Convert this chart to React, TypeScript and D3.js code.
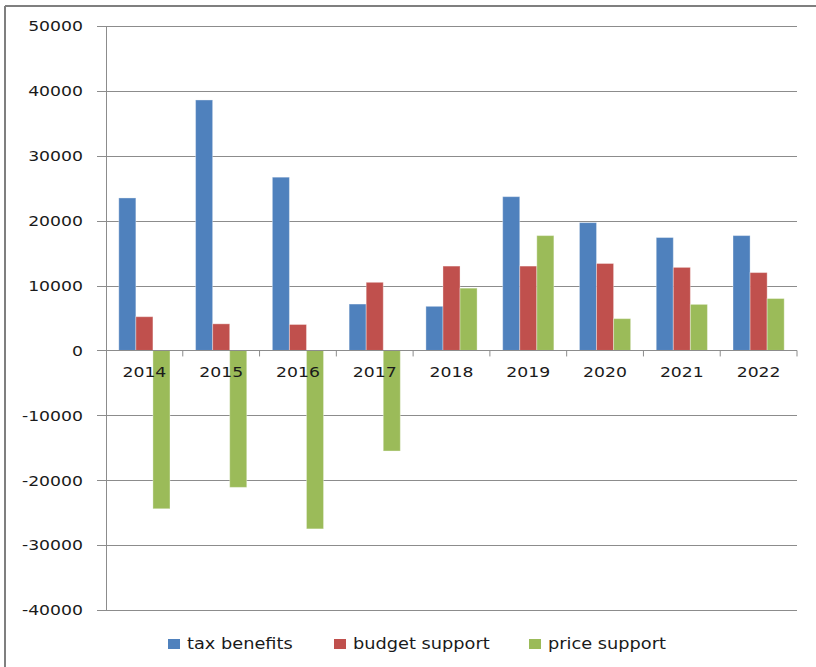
import { scaleBand, scaleLinear } from 'd3'

// values
const years = ['2014', '2015', '2016', '2017', '2018', '2019', '2020', '2021', '2022']
const taxBenefits = [23500, 38600, 26700, 7150, 6800, 23700, 19700, 17400, 17700]
const budgetSupport = [5200, 4100, 4000, 10500, 13000, 13000, 13400, 12800, 12000]
const priceSupport = [-24400, -21100, -27500, -15500, 9600, 17700, 4900, 7100, 8000]
const seriesNames = ['tax benefits', 'budget support', 'price support']
const seriesColors = ['#4F81BD', '#C0504D', '#9BBB59']
const yTicks = [-40000, -30000, -20000, -10000, 0, 10000, 20000, 30000, 40000, 50000]

const W = 816
const H = 667
const left = 106
const right = 797
const top = 26
const bottom = 610
const FONT = '"DejaVu Sans", Verdana, sans-serif'
const GRID = '#8c8c8c'

export default function App() {
  const series = [taxBenefits, budgetSupport, priceSupport]

  const x = scaleBand<string>().domain(years).range([left, right]).paddingInner(1 / 3).paddingOuter(1 / 6)
  const xs = scaleBand<number>().domain([0, 1, 2]).range([0, x.bandwidth()]).padding(0)
  const y = scaleLinear().domain([-40000, 50000]).range([bottom, top])
  const step = x.step()

  // legend positions (left edge of each swatch)
  const legendX = [168, 334, 529]

  return (
    <svg width={W} height={H} style={{ position: 'absolute', left: 0, top: 0, background: '#fff' }}>
      {/* outer frame, only top and left edges are visible */}
      <line x1={5} x2={W} y1={6} y2={6} stroke="#7f7f7f" strokeWidth={2} />
      <line x1={5} x2={5} y1={6} y2={H} stroke="#7f7f7f" strokeWidth={2} />

      {/* gridlines + y ticks */}
      {yTicks.map((t) => (
        <g key={t}>
          <line x1={97} x2={right} y1={Math.round(y(t)) + 0.5} y2={Math.round(y(t)) + 0.5} stroke={GRID} strokeWidth={1} />
          <text
            transform={`translate(83,${y(t) + 5.3}) scale(1.19,1)`}
            textAnchor="end"
            fontFamily={FONT}
            fontSize={14.5}
            fill="#1a1a1a"
          >
            {t}
          </text>
        </g>
      ))}

      {/* value axis line */}
      <line x1={left + 0.5} x2={left + 0.5} y1={y(50000)} y2={y(-40000)} stroke={GRID} strokeWidth={1} />

      {/* bars */}
      {series.map((vals, si) =>
        vals.map((v, i) => {
          const bx = (x(years[i]) ?? 0) + (xs(si) ?? 0)
          const y0 = y(0)
          const y1 = y(v)
          return (
            <rect
              key={`${si}-${i}`}
              x={bx}
              y={Math.min(y0, y1)}
              width={xs.bandwidth()}
              height={Math.abs(y1 - y0)}
              fill={seriesColors[si]}
              stroke="#ffffff"
              strokeOpacity={0.35}
              strokeWidth={1}
            />
          )
        })
      )}

      {/* category axis at zero */}
      <line x1={left} x2={right} y1={Math.round(y(0)) + 0.5} y2={Math.round(y(0)) + 0.5} stroke={GRID} strokeWidth={1} />
      {years.map((yr, i) => (
        <line
          key={`tick-${yr}`}
          x1={left + step * (i + 1)}
          x2={left + step * (i + 1)}
          y1={y(0)}
          y2={y(0) + 6}
          stroke={GRID}
          strokeWidth={1}
        />
      ))}
      {years.map((yr) => (
        <text
          key={`lab-${yr}`}
          transform={`translate(${(x(yr) ?? 0) + x.bandwidth() / 2},${y(0) + 27}) scale(1.19,1)`}
          textAnchor="middle"
          fontFamily={FONT}
          fontSize={14.5}
          fill="#1a1a1a"
        >
          {yr}
        </text>
      ))}

      {/* legend */}
      {seriesNames.map((name, i) => (
        <g key={name}>
          <rect x={legendX[i]} y={639} width={12} height={10} fill={seriesColors[i]} />
          <text
            transform={`translate(${legendX[i] + 19},649) scale(1.11,1)`}
            fontFamily={FONT}
            fontSize={16}
            fill="#1a1a1a"
          >
            {name}
          </text>
        </g>
      ))}
    </svg>
  )
}
